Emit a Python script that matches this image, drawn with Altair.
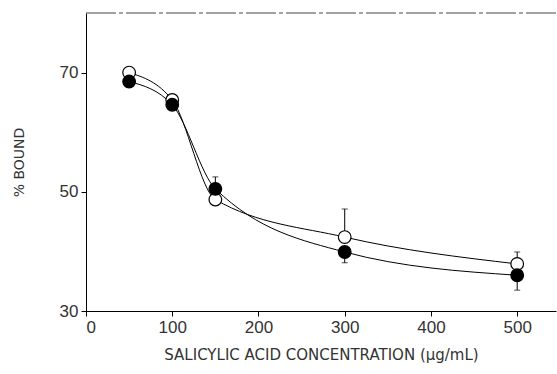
import altair as alt
import pandas as pd

conc = [50, 100, 150, 300, 500]
open_vals = [70.0, 65.4, 48.7, 42.4, 37.9]
filled_vals = [68.5, 64.6, 50.5, 39.9, 36.0]

# one-sided error bars: (series, x, from, to)
err_series = ["open", "open", "filled", "filled", "filled"]
err_x = [300, 500, 150, 300, 500]
err_from = [42.4, 37.9, 50.5, 39.9, 36.0]
err_to = [47.1, 39.9, 52.5, 38.1, 33.5]

df = pd.DataFrame({
    "conc": conc * 2,
    "bound": open_vals + filled_vals,
    "series": ["open"] * 5 + ["filled"] * 5,
})
err = pd.DataFrame({"series": err_series, "conc": err_x, "lo": err_from, "hi": err_to})

FONT = "Liberation Sans"
TFONT = "DejaVu Sans"
xs = alt.Scale(domain=[0, 545], nice=False)
ys = alt.Scale(domain=[30, 80], nice=False)

xenc = alt.X("conc:Q", scale=xs, axis=alt.Axis(
    values=[0, 100, 200, 300, 400, 500], title="SALICYLIC ACID CONCENTRATION (μg/mL)",
    grid=False, domainColor="black", tickColor="black", tickSize=5,
    labelFont=FONT, labelFontSize=17, labelColor="#333", labelPadding=3,
    titleFont=TFONT, titleFontSize=15, titleFontWeight="normal", titleColor="#333", titlePadding=12))
yenc = alt.Y("bound:Q", scale=ys, axis=alt.Axis(
    values=[30, 50, 70], title="% BOUND",
    grid=False, domainColor="black", tickColor="black", tickSize=5,
    labelFont=FONT, labelFontSize=17, labelColor="#333", labelPadding=3,
    titleFont=TFONT, titleFontSize=14, titleFontWeight="normal", titleColor="#333", titlePadding=33))

lines = alt.Chart(df).mark_line(color="black", strokeWidth=1, interpolate="monotone").encode(
    x=xenc, y=yenc, detail="series:N")

errs = alt.Chart(err).mark_rule(color="black", strokeWidth=1).encode(
    x=alt.X("conc:Q", scale=xs), y=alt.Y("lo:Q", scale=ys), y2="hi:Q")
caps = alt.Chart(err).mark_tick(color="black", thickness=1, size=6, orient="horizontal").encode(
    x=alt.X("conc:Q", scale=xs), y=alt.Y("hi:Q", scale=ys))

pts = alt.Chart(df).mark_point(shape="circle", size=160, strokeWidth=1.2, opacity=1).encode(
    x=alt.X("conc:Q", scale=xs), y=alt.Y("bound:Q", scale=ys),
    fill=alt.Fill("series:N", scale=alt.Scale(domain=["open", "filled"], range=["white", "black"]), legend=None),
    stroke=alt.value("black"))

top = alt.Chart(pd.DataFrame({"y": [80]})).mark_rule(color="#444", strokeWidth=1, strokeDash=[30, 3, 4, 3]).encode(
    y=alt.Y("y:Q", scale=ys), x=alt.value(0), x2=alt.value(470))

chart = alt.layer(top, lines, errs, caps, pts).properties(
    width=470, height=298,
    padding={"left": 86, "top": 13, "right": 1, "bottom": 63},
    autosize=alt.AutoSizeParams(type="none"),
    background="white",
).configure_view(stroke=None)

chart.save("out.html", embed_options={"renderer": "svg", "actions": False})
